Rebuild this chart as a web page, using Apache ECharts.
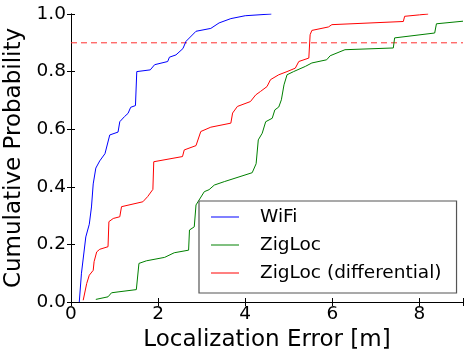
<!DOCTYPE html>
<html>
<head>
<meta charset="utf-8">
<script src="https://cdn.jsdelivr.net/npm/echarts@6/dist/echarts.min.js"></script>
<style>
  html, body { margin: 0; padding: 0; background: #fff; }
  #cdfChart { width: 464px; height: 353px; }
</style>
</head>
<body>
<div id="cdfChart"></div>
<script>
var seriesNames = ['WiFi', 'ZigLoc', 'ZigLoc (differential)'];
var xTicks = [0, 2, 4, 6, 8];
var yTicks = [0.0, 0.2, 0.4, 0.6, 0.8, 1.0];
var xRange = [0, 9];

var wifiErr = [0.19, 0.24, 0.34, 0.42, 0.47, 0.51, 0.57, 0.66, 0.78, 0.89, 1.08, 1.12, 1.23, 1.31, 1.37, 1.48, 1.51, 1.82, 1.92, 2.22, 2.26, 2.41, 2.57, 2.64, 2.87, 3.21, 3.40, 3.67, 4.00, 4.60];
var wifiCdf = [0.0, 0.10, 0.226, 0.27, 0.33, 0.41, 0.465, 0.49, 0.515, 0.58, 0.59, 0.626, 0.644, 0.655, 0.676, 0.682, 0.80, 0.806, 0.824, 0.835, 0.85, 0.858, 0.88, 0.905, 0.94, 0.95, 0.969, 0.984, 0.994, 1.0];

var zigErr = [0.57, 0.85, 0.93, 1.08, 1.50, 1.56, 1.73, 2.15, 2.37, 2.70, 2.72, 2.83, 2.87, 3.06, 3.17, 3.29, 3.52, 4.16, 4.25, 4.30, 4.39, 4.47, 4.62, 4.68, 4.77, 4.83, 4.89, 4.96, 5.11, 5.38, 5.53, 5.87, 5.95, 6.29, 7.40, 7.43, 8.35, 8.39, 9.0];
var zigCdf = [0.009, 0.018, 0.032, 0.035, 0.043, 0.134, 0.143, 0.155, 0.171, 0.18, 0.25, 0.261, 0.337, 0.383, 0.39, 0.406, 0.418, 0.449, 0.48, 0.563, 0.586, 0.626, 0.638, 0.667, 0.677, 0.702, 0.754, 0.789, 0.80, 0.818, 0.83, 0.841, 0.855, 0.876, 0.882, 0.917, 0.934, 0.966, 0.975];

var diffErr = [0.28, 0.36, 0.42, 0.51, 0.53, 0.59, 0.66, 0.85, 0.87, 0.97, 1.12, 1.16, 1.19, 1.65, 1.76, 1.88, 1.90, 2.56, 2.60, 2.87, 2.98, 3.21, 3.67, 3.71, 3.82, 4.12, 4.24, 4.35, 4.50, 4.58, 4.77, 4.96, 5.15, 5.23, 5.46, 5.49, 5.53, 5.91, 5.99, 7.63, 7.66, 8.00, 8.20];
var diffCdf = [0.006, 0.064, 0.093, 0.11, 0.14, 0.174, 0.183, 0.192, 0.279, 0.29, 0.296, 0.331, 0.337, 0.348, 0.366, 0.391, 0.487, 0.505, 0.528, 0.543, 0.592, 0.607, 0.621, 0.656, 0.679, 0.696, 0.719, 0.731, 0.748, 0.772, 0.789, 0.80, 0.812, 0.835, 0.847, 0.928, 0.943, 0.955, 0.963, 0.974, 0.992, 0.997, 1.0];

var targetLevel = 0.9;

function pairs(xs, ys) {
	var out = [];
	for (var i = 0; i < xs.length; i++) out.push([xs[i], ys[i]]);
	return out;
}

var font = 'DejaVu Sans';
var chart = echarts.init(document.getElementById('cdfChart'), null, { renderer: 'canvas' });

function lineSeries(name, data, color) {
	return {
		name: name,
		type: 'line',
		data: data,
		showSymbol: false,
		symbol: 'none',
		clip: true,
		lineStyle: { color: color, width: 1 },
		itemStyle: { color: color },
		animation: false
	};
}

var series = [
	lineSeries(seriesNames[0], pairs(wifiErr, wifiCdf), '#0000ff'),
	lineSeries(seriesNames[1], pairs(zigErr, zigCdf), '#008000'),
	lineSeries(seriesNames[2], pairs(diffErr, diffCdf), '#ff0000')
];
// 0.9 reference level, dashed
var target = lineSeries('target', pairs(xRange, [targetLevel, targetLevel]), '#ff3030');
target.lineStyle.type = [6, 4];
target.silent = true;
target.z = 1;
series.push(target);

var tickStyle = { show: true, inside: true, length: 4, lineStyle: { color: '#000', width: 1 } };

var option = {
	backgroundColor: '#fff',
	animation: false,
	grid: { left: 71, top: 14, right: 1, bottom: 51, containLabel: false, outerBoundsMode: 'none' },
	legend: {
		data: seriesNames,
		orient: 'vertical',
		left: 199,
		top: 201,
		padding: [6, 15, 10, 12],
		itemGap: 8,
		itemWidth: 28,
		itemHeight: 1,
		icon: 'rect',
		backgroundColor: '#fff',
		borderColor: '#555',
		borderWidth: 1.2,
		borderRadius: 0,
		textStyle: { fontFamily: font, fontSize: 18.5, color: '#000', lineHeight: 20, padding: [0, 0, 0, 16] }
	},
	xAxis: [{
		type: 'value',
		min: xRange[0],
		max: xRange[1],
		interval: 2,
		name: 'Localization Error [m]',
		nameLocation: 'middle',
		nameGap: 25,
		nameTextStyle: { fontFamily: font, fontSize: 23, color: '#000' },
		axisLine: { show: true, onZero: false, lineStyle: { color: '#000', width: 1 } },
		axisTick: tickStyle,
		splitLine: { show: false },
		axisLabel: {
			fontFamily: font, fontSize: 18.5, color: '#000', margin: 3,
			formatter: function (v) { return xTicks.indexOf(v) >= 0 ? String(v) : ''; }
		}
	}, {
		type: 'value',
		position: 'top',
		min: xRange[0],
		max: xRange[1],
		interval: 2,
		axisLine: { show: true, lineStyle: { color: '#000', width: 1 } },
		axisTick: tickStyle,
		axisLabel: { show: false },
		splitLine: { show: false }
	}],
	yAxis: [{
		type: 'value',
		min: 0,
		max: 1,
		interval: 0.2,
		name: 'Cumulative Probability',
		nameLocation: 'middle',
		nameGap: 39,
		nameTextStyle: { fontFamily: font, fontSize: 23, color: '#000' },
		axisLine: { show: true, onZero: false, lineStyle: { color: '#000', width: 1 } },
		axisTick: tickStyle,
		splitLine: { show: false },
		axisLabel: {
			fontFamily: font, fontSize: 18.5, color: '#000', margin: 5,
			formatter: function (v) { return v.toFixed(1); }
		}
	}, {
		type: 'value',
		position: 'right',
		min: 0,
		max: 1,
		interval: 0.2,
		axisLine: { show: true, lineStyle: { color: '#000', width: 1 } },
		axisTick: tickStyle,
		axisLabel: { show: false },
		splitLine: { show: false }
	}],
	series: series
};

chart.setOption(option);
</script>
</body>
</html>
